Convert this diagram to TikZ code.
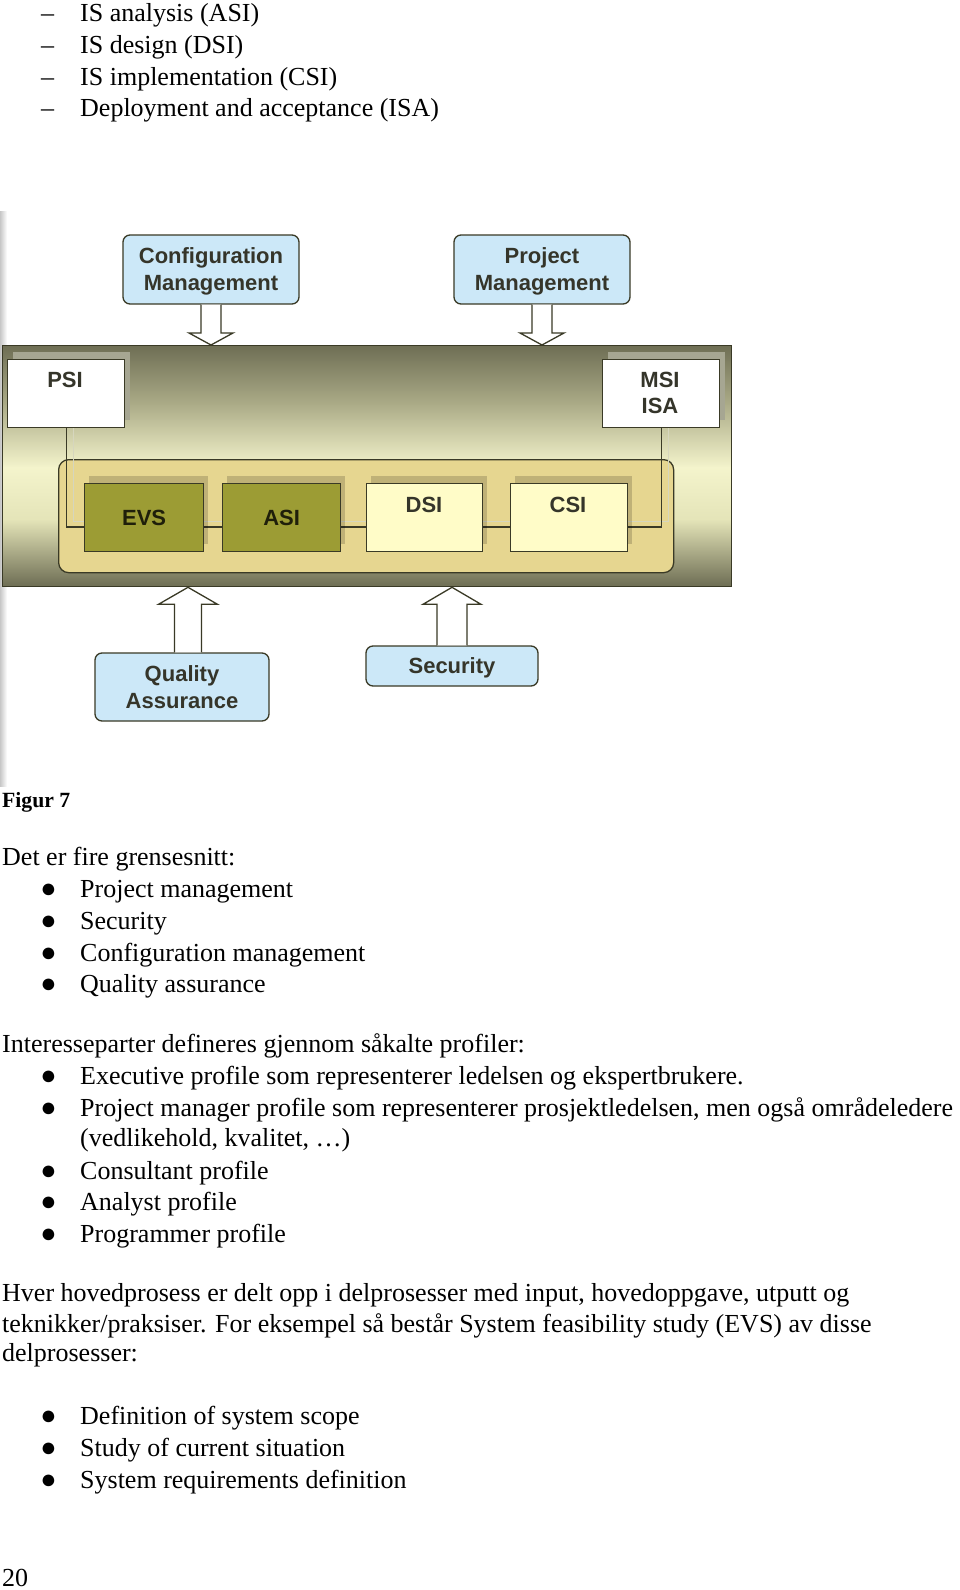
\documentclass[tikz,border=0pt]{standalone}
\usepackage{fontspec}
\setmainfont{Liberation Serif}
\newfontfamily\diagfont{Liberation Sans}
\usetikzlibrary{calc}
\definecolor{lblue}{HTML}{CCE8F8}
\definecolor{bdr}{HTML}{3A3A26}
\definecolor{olivebox}{HTML}{9C9C34}
\definecolor{paleyel}{HTML}{FFFCC8}
\definecolor{tanfill}{HTML}{E6D690}
\definecolor{pdark}{HTML}{6E6E54}
\definecolor{pmid}{HTML}{ACAC88}
\definecolor{plight}{HTML}{F4F4CC}
\definecolor{plighttwo}{HTML}{E4E4B8}
\definecolor{labtxt}{HTML}{35352A}
\definecolor{faintln}{HTML}{D6D6BE}
\definecolor{psishadow}{HTML}{A6A692}
\tikzset{
  txt/.style={anchor=base west, inner sep=0pt, font=\fontsize{26}{31}\selectfont},
  bul/.style={anchor=base, inner sep=0pt, font=\fontsize{27}{29}\selectfont},
  lab/.style={inner sep=0pt, text=labtxt, align=center, font=\diagfont\bfseries\fontsize{22}{26}\selectfont},
  bluebox/.style={draw=bdr, fill=lblue, rounded corners=7pt, line width=1.3pt, align=center, text=labtxt,
    font=\diagfont\bfseries\fontsize{22}{27}\selectfont, inner sep=0pt, text depth=0pt},
  whitebox/.style={draw=bdr, fill=white, line width=1.3pt, inner sep=0pt, anchor=north west},
  olbox/.style={draw=bdr, fill=olivebox, line width=1.3pt, inner sep=0pt, anchor=north west},
  ylbox/.style={draw=bdr, fill=paleyel, line width=1.3pt, inner sep=0pt, anchor=north west},
  shadowbox/.style={fill=black, opacity=0.17, draw=none},
  blk/.style={draw=bdr, fill=white, line width=1.3pt, line join=miter},
  conn/.style={draw=bdr, line width=1.3pt}
}
\newcommand{\bigbul}{●}
\begin{document}
\begin{tikzpicture}[x=1pt,y=-1pt]
\useasboundingbox (0,0) rectangle (960,1590);
\fill[white] (0,0) rectangle (960,1590);

% ---- top list ----
\node[txt] (d1) at (41,21) {–};
\node[txt] (l1) at (80,21) {IS analysis (ASI)};
\node[txt] (d2) at (41,53) {–};
\node[txt] (l2) at (80,53) {IS design (DSI)};
\node[txt] (d3) at (41,85) {–};
\node[txt] (l3) at (80,85) {IS implementation (CSI)};
\node[txt] (d4) at (41,116.5) {–};
\node[txt] (l4) at (80,116.5) {Deployment and acceptance (ISA)};

% ---- diagram ----
\shade[left color=black!22, right color=white] (0,211) rectangle (7,786);
% panel shading
\shade[top color=pdark, bottom color=pmid] (2,345) rectangle (731,405);
\shade[top color=pmid, bottom color=plight] (2,404.5) rectangle (731,468);
\shade[top color=plight, bottom color=plighttwo] (2,467.5) rectangle (731,520);
\shade[top color=plighttwo, bottom color=pdark] (2,519.5) rectangle (731,586);
\node[draw=bdr, line width=1.3pt, minimum width=729, minimum height=241, inner sep=0pt, anchor=north west] (panel) at (2,345) {};

% PSI / MSI
\fill[psishadow] (13,352) rectangle (130,420);
\fill[psishadow] (608,352) rectangle (725,420);
\node[whitebox, minimum width=117, minimum height=68] (psi) at (7,359) {};
\node[lab] (psit) at (65,380) {PSI};
\node[whitebox, minimum width=117, minimum height=68] (msi) at (602,359) {};
\node[lab] (msit) at (660,393) {MSI\\ISA};

% inner rounded area
\node[draw=bdr, fill=tanfill, line width=1.3pt, rounded corners=10pt, minimum width=615, minimum height=113, inner sep=0pt, anchor=north west] (inner) at (58,459) {};

% connector line and its faint shadow
\coordinate (ly) at (0,527);
\coordinate (lyf) at (0,521);
\draw[faintln, line width=1pt] ($(psi.south)+(7,0)$) |- ($(lyf -| msi.south)+(7,0)$) -- ($(msi.south)+(7,0)$);
\draw[conn] (psi.south) |- (ly -| msi.south) -- (msi.south);

% process box shadows
\fill[shadowbox] (89,476) rectangle (208,544);
\fill[shadowbox] (227,476) rectangle (345,544);
\fill[shadowbox] (371,476) rectangle (487,544);
\fill[shadowbox] (515,476) rectangle (632,544);
% process boxes
\node[olbox, minimum width=119, minimum height=68] (evs) at (84,483) {};
\node[lab, text=black!80!olivebox] (evst) at (evs.center) {EVS};
\node[olbox, minimum width=118, minimum height=68] (asi) at (222,483) {};
\node[lab, text=black!80!olivebox] (asit) at (asi.center) {ASI};
\node[ylbox, minimum width=116, minimum height=68] (dsi) at (366,483) {};
\node[lab] (dsit) at (424,505) {DSI};
\node[ylbox, minimum width=117, minimum height=68] (csi) at (510,483) {};
\node[lab] (csit) at (568,505) {CSI};

% top interface boxes
\node[bluebox, minimum width=176, minimum height=69] (cfg) at (211,269.5) {Configuration\\Management};
\node[bluebox, minimum width=176, minimum height=69] (pm) at (542,269.5) {Project\\Management};
% bottom interface boxes
\node[bluebox, minimum width=174, minimum height=68] (qa) at (182,687) {Quality\\Assurance};
\node[bluebox, minimum width=172, minimum height=40] (sec) at (452,666) {Security};

% block arrows down
\draw[blk] ($(cfg.south)+(-10,0)$) -- ($(cfg.south |- panel.north)+(-10,-12)$) -- ++(-12,0)
  -- (cfg.south |- panel.north) -- ($(cfg.south |- panel.north)+(22,-12)$) -- ++(-12,0) -- ($(cfg.south)+(10,0)$);
\draw[blk] ($(pm.south)+(-10,0)$) -- ($(pm.south |- panel.north)+(-10,-12)$) -- ++(-12,0)
  -- (pm.south |- panel.north) -- ($(pm.south |- panel.north)+(22,-12)$) -- ++(-12,0) -- ($(pm.south)+(10,0)$);
% block arrows up
\coordinate (qax) at ($(qa.north)+(6,0)$);
\draw[blk] ($(qax)+(-13.5,0)$) -- ($(qax |- panel.south)+(-13.5,17)$) -- ++(-16,0)
  -- (qax |- panel.south) -- ($(qax |- panel.south)+(29.5,17)$) -- ++(-16,0) -- ($(qax)+(13.5,0)$);
\draw[blk] ($(sec.north)+(-15,0)$) -- ($(sec.north |- panel.south)+(-15,17)$) -- ++(-14,0)
  -- (sec.north |- panel.south) -- ($(sec.north |- panel.south)+(29,17)$) -- ++(-14,0) -- ($(sec.north)+(15,0)$);

% ---- caption and text ----
\node[txt, font=\bfseries\fontsize{21.7}{26}\selectfont] (fig) at (2,807) {Figur 7};
\node[txt] (p1) at (2,865.5) {Det er fire grensesnitt:};
\node[bul] (b1) at (48.5,897) {\bigbul};
\node[txt] (t1) at (80,897) {Project management};
\node[bul] (b2) at (48.5,929.5) {\bigbul};
\node[txt] (t2) at (80,929.5) {Security};
\node[bul] (b3) at (48.5,961) {\bigbul};
\node[txt] (t3) at (80,961) {Configuration management};
\node[bul] (b4) at (48.5,992) {\bigbul};
\node[txt] (t4) at (80,992) {Quality assurance};

\node[txt] (p2) at (2,1052) {Interesseparter defineres gjennom såkalte profiler:};
\node[bul] (b5) at (48.5,1084.5) {\bigbul};
\node[txt] (t5) at (80,1084.5) {Executive profile som representerer ledelsen og ekspertbrukere.};
\node[bul] (b6) at (48.5,1116) {\bigbul};
\node[txt] (t6) at (80,1116) {Project manager profile som representerer prosjektledelsen, men også områdeledere};
\node[txt] (t6b) at (80,1146.5) {(vedlikehold, kvalitet, …)};
\node[bul] (b7) at (48.5,1179) {\bigbul};
\node[txt] (t7) at (80,1179) {Consultant profile};
\node[bul] (b8) at (48.5,1210) {\bigbul};
\node[txt] (t8) at (80,1210) {Analyst profile};
\node[bul] (b9) at (48.5,1242) {\bigbul};
\node[txt] (t9) at (80,1242) {Programmer profile};

\node[txt] (p3) at (2,1301.5) {Hver hovedprosess er delt opp i delprosesser med input, hovedoppgave, utputt og};
\node[txt] (p3b) at (2,1332) {teknikker/praksiser. For eksempel så består System feasibility study (EVS) av disse};
\node[txt] (p3c) at (2,1361.5) {delprosesser:};

\node[bul] (b10) at (48.5,1424) {\bigbul};
\node[txt] (t10) at (80,1424) {Definition of system scope};
\node[bul] (b11) at (48.5,1456) {\bigbul};
\node[txt] (t11) at (80,1456) {Study of current situation};
\node[bul] (b12) at (48.5,1488) {\bigbul};
\node[txt] (t12) at (80,1488) {System requirements definition};

\node[txt] (pg) at (2,1586) {20};
\end{tikzpicture}
\end{document}
